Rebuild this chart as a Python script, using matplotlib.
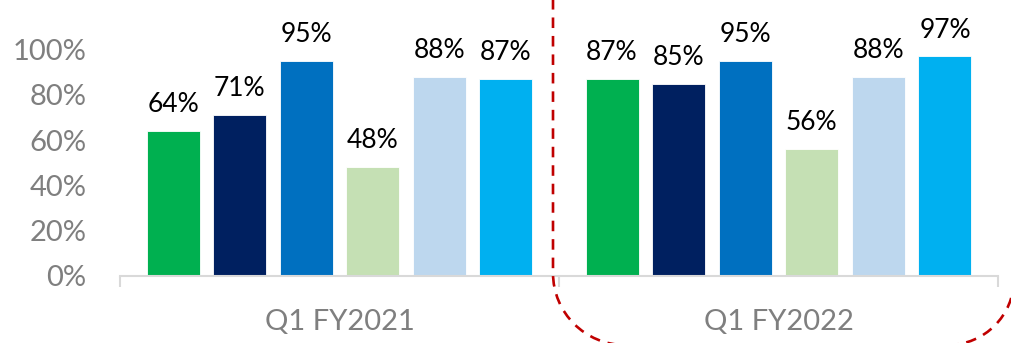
import numpy as np
import matplotlib
matplotlib.use('Agg')
from matplotlib import pyplot as plt
from matplotlib.patches import PathPatch
from matplotlib.path import Path

plt.rcParams['font.family'] = ['Lato', 'DejaVu Sans']

# data
groups = ['Q1 FY2021', 'Q1 FY2022']
fy2021 = [64, 71, 95, 48, 88, 87]
fy2022 = [87, 85, 95, 56, 88, 97]
colors = ['#00B050', '#002060', '#0070C0', '#C5E0B4', '#BDD7EE', '#00B0F0']

W, H = 1012, 343
fig = plt.figure(figsize=(W / 100, H / 100), dpi=100)
ax = fig.add_axes([120/W, 67/H, 878/W, 226.3/H])

pitch = 0.1517
width = 0.1207
offsets = (np.arange(6) - 2.5) * pitch

for gi, vals in enumerate([fy2021, fy2022]):
    for i, v in enumerate(vals):
        x = gi + offsets[i]
        ax.bar(x, v / 100, width=width, color=colors[i], edgecolor='white', linewidth=0.6)
        ax.annotate('%d%%' % v, (x, v / 100), xytext=(0, 10), textcoords='offset points',
                    ha='center', va='bottom', fontsize=19, color='black')

ax.set_xlim(-0.5, 1.5)
ax.set_ylim(0, 1.0)
ax.set_yticks(np.arange(0, 1.01, 0.2))
ax.set_yticklabels(['%d%%' % (t * 100) for t in np.arange(0, 1.01, 0.2).round(1)])
ax.set_xticks([0, 1])
ax.set_xticklabels(groups)
ax.set_xticks([-0.5, 0.5, 1.5], minor=True)
ax.tick_params(axis='y', length=0, pad=24, labelsize=21, labelcolor='#7F7F7F')
ax.tick_params(axis='x', which='major', length=0, pad=24, labelsize=21, labelcolor='#7F7F7F')
ax.tick_params(axis='x', which='minor', length=8, width=1.5, color='#D9D9D9')

for s in ['top', 'right', 'left']:
    ax.spines[s].set_visible(False)
ax.spines['bottom'].set_color('#D9D9D9')
ax.spines['bottom'].set_linewidth(1.5)

# red dashed highlight round second group: two pieces that run off the bottom edge
xl, xr, yb = 553, 1014, -2
rl, rr = 72, 66
kl, kr = 0.5523 * rl, 0.5523 * rr
left = [(xl, 420), (xl, yb + rl),
        (xl, yb + rl - kl), (xl + rl - kl, yb), (xl + rl, yb)]
right = [(xr - rr, yb),
         (xr - rr + kr, yb), (xr, yb + rr - kr), (xr, yb + rr),
         (xr, 420)]
for pts, codes in [(left, [Path.MOVETO, Path.LINETO, Path.CURVE4, Path.CURVE4, Path.CURVE4]),
                   (right, [Path.MOVETO, Path.CURVE4, Path.CURVE4, Path.CURVE4, Path.LINETO])]:
    pts = [(px / W, py / H) for px, py in pts]
    fig.add_artist(PathPatch(Path(pts, codes), transform=fig.transFigure, fill=False,
                             edgecolor='#C00000', linewidth=1.9, linestyle=(0, (4, 3)),
                             clip_on=False))

fig.savefig('out.png', dpi=100)
